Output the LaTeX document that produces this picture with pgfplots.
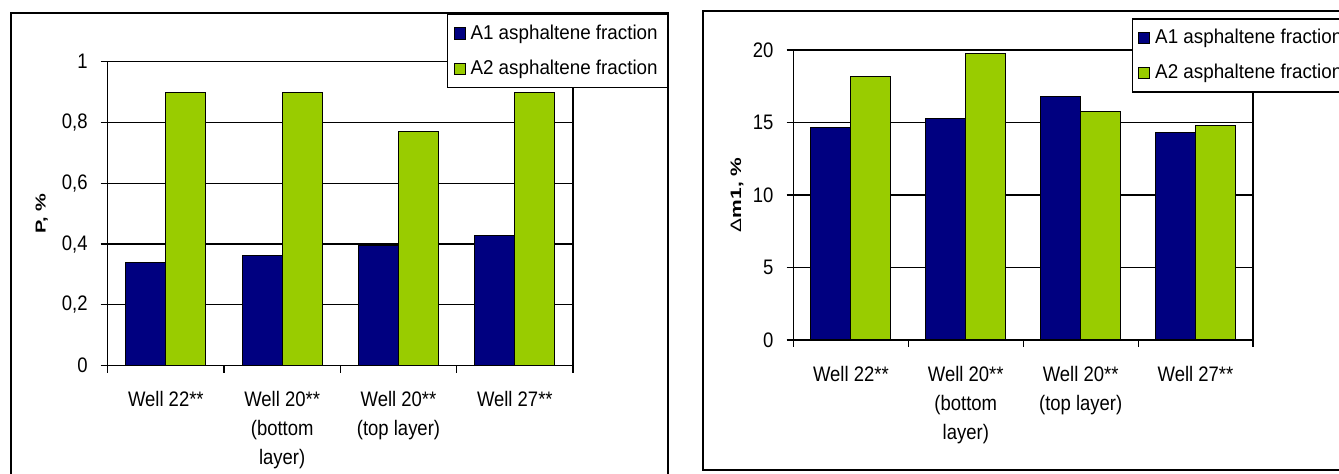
\documentclass[border=0pt]{standalone}
\usepackage{fontspec}
\setmainfont{Liberation Sans}
\newfontfamily\tickfont[FakeStretch=0.88]{Liberation Sans}
\newfontfamily\legfont[FakeStretch=0.94]{Liberation Sans}
\usepackage{pgfplots}
\pgfplotsset{compat=1.18}

\definecolor{aone}{HTML}{000080}
\definecolor{atwo}{HTML}{99CC00}

\pgfplotstableread{
x  a1     a2
0  0.338  0.898
1  0.362  0.898
2  0.395  0.771
3  0.428  0.898
}\ptable

\pgfplotstableread{
x  a1     a2
0  14.64  18.16
1  15.29  19.77
2  16.78  15.75
3  14.30  14.76
}\mtable

\pgfplotsset{
  wellbars/.style={
    scale only axis,
    ybar=0pt,
    bar width=20pt,
    xmin=-0.5, xmax=3.5,
    xtick={0,1,2,3},
    xticklabels={Well 22**, Well 20**\\(bottom\\layer), Well 20**\\(top layer), Well 27**},
    minor xtick={-0.5,0.5,1.5,2.5,3.5},
    major x tick style={draw=none},
    tick pos=left,
    tick align=outside,
    major tick length=3.5pt,
    minor tick length=3.5pt,
    tick style={black, line width=0.6pt},
    ymajorgrids,
    grid style={black, line width=0.6pt},
    axis line style={black, line width=0.75pt},
    xticklabel style={font=\tickfont\fontsize{10.5}{14.5}\selectfont, align=center, anchor=north, yshift=-6pt},
    yticklabel style={font=\tickfont\fontsize{10.5}{12}\selectfont, xshift=-3pt},
    /pgf/number format/assume math mode=true,
    /pgf/number format/use comma,
    legend cell align=left,
    legend image code/.code={\draw[#1, line width=0.5pt] (0pt,-2.8pt) rectangle (5.4pt,2.8pt);},
    legend style={draw=black, line width=0.75pt, font=\legfont\fontsize{10}{12}\selectfont,
      anchor=north west, inner xsep=3pt, inner ysep=3pt, row sep=5pt,
      /tikz/every odd column/.append style={column sep=0.5pt}},
  },
  barone/.style={draw=black, line width=0.5pt, fill=aone},
  bartwo/.style={draw=black, line width=0.5pt, fill=atwo},
}

\begin{document}
\begin{tikzpicture}
\path[use as bounding box] (0pt,0pt) rectangle (669.5pt,237pt);

% outer frames
\draw[line width=1pt] (5.5pt,-2pt) -- (5.5pt,230.5pt) -- (334pt,230.5pt) -- (334pt,-2pt);
\draw[line width=1pt] (680pt,231.5pt) -- (351.35pt,231.5pt) -- (351.35pt,2pt) -- (680pt,2pt);

% left chart
\begin{axis}[wellbars,
    at={(53.85pt,54.15pt)}, anchor=south west,
    width=232.65pt, height=152pt,
    ymin=0, ymax=1, ytick={0,0.2,...,1},
    ylabel={\scalebox{1}[0.72]{\fontsize{10}{12}\selectfont\bfseries P, \%}},
    ylabel style={at={(axis description cs:-0.1418,0.5)}, anchor=center},
    legend style={at={(axis description cs:0.7292,1.1569)}},
  ]
  \addplot[barone] table[x=x, y=a1] {\ptable};
  \addplot[bartwo] table[x=x, y=a2] {\ptable};
  \legend{A1 asphaltene fraction, A2 asphaltene fraction}
\end{axis}

% right chart
\begin{axis}[wellbars,
    at={(396.75pt,67pt)}, anchor=south west,
    width=229.75pt, height=145pt,
    ymin=0, ymax=20, ytick={0,5,...,20},
    ylabel={\scalebox{1}[0.72]{\fontsize{10.5}{12}\selectfont Δ\bfseries m1, \%}},
    ylabel style={at={(axis description cs:-0.123,0.5)}, anchor=center},
    legend style={at={(axis description cs:0.736,1.1095)}},
  ]
  \addplot[barone] table[x=x, y=a1] {\mtable};
  \addplot[bartwo] table[x=x, y=a2] {\mtable};
  \legend{A1 asphaltene fraction, A2 asphaltene fraction}
\end{axis}
\end{tikzpicture}
\end{document}
